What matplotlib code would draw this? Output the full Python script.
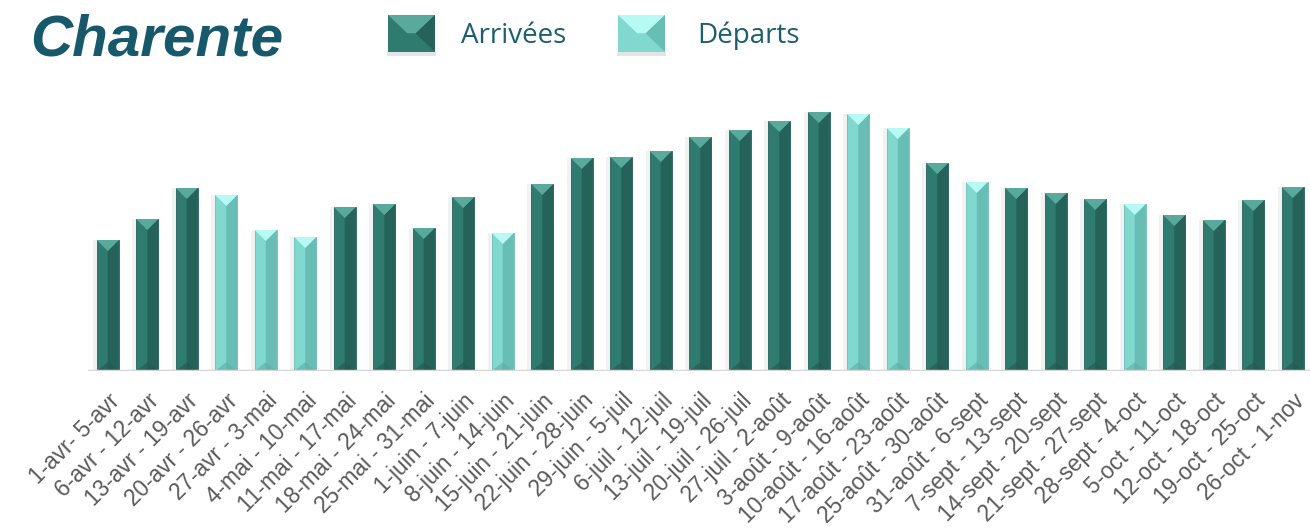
import numpy as np
import matplotlib.pyplot as plt
from matplotlib.patches import Polygon, Rectangle

# weekly periods (April -> early November)
periods = ["1-avr- 5-avr", "6-avr - 12-avr", "13-avr - 19-avr", "20-avr - 26-avr",
           "27-avr - 3-mai", "4-mai - 10-mai", "11-mai - 17-mai", "18-mai - 24-mai",
           "25-mai - 31-mai", "1-juin - 7-juin", "8-juin - 14-juin", "15-juin - 21-juin",
           "22-juin - 28-juin", "29-juin - 5-juil", "6-juil - 12-juil", "13-juil - 19-juil",
           "20-juil - 26-juil", "27-juil - 2-août", "3-août - 9-août", "10-août - 16-août",
           "17-août - 23-août", "25-août - 30-août", "31-août - 6-sept", "7-sept - 13-sept",
           "14-sept - 20-sept", "21-sept - 27-sept", "28-sept - 4-oct", "5-oct - 11-oct",
           "12-oct - 18-oct", "19-oct - 25-oct", "26-oct - 1-nov"]
values = [131, 152, 183, 176, 141, 134, 164, 167, 143, 174, 138, 187, 213, 214, 220, 234,
          241, 250, 259, 257, 243, 208, 189, 183, 178, 172, 167, 156, 151, 171, 184]
# 'A' = Arrivées dominant week, 'D' = Départs dominant week
kind = ["A", "A", "A", "D", "D", "D", "A", "A", "A", "A", "D", "A", "A", "A", "A", "A",
        "A", "A", "A", "D", "D", "A", "D", "A", "A", "A", "D", "A", "A", "A", "A"]

# face, right side, top facet, bottom facet
PAL = {"A": ("#2f7b70", "#25635a", "#5aa99d", "#22584f"),
       "D": ("#80d8cf", "#68bdb4", "#b6faf3", "#5fada4")}

FIG_W, FIG_H = 1310, 531
fig = plt.figure(figsize=(FIG_W / 100, FIG_H / 100), dpi=100)
ax = fig.add_axes([88 / FIG_W, 160 / FIG_H, 1222 / FIG_W, 271 / FIG_H])

x = np.arange(len(values))
step = 39.5  # px per category
ax.set_xlim(-0.5, -0.5 + 1222 / step)
ax.set_ylim(0, 271)

# pixel -> data conversion for the bevel facets
px_x = (ax.get_xlim()[1] - ax.get_xlim()[0]) / 1222
px_y = (ax.get_ylim()[1] - ax.get_ylim()[0]) / 271

width = 0.56
# soft shadow
ax.bar(x - 2 * px_x, values, width=width + 4 * px_x, color="#000000", alpha=0.05,
       zorder=1)
bars = ax.bar(x, values, width=width, color=[PAL[k][0] for k in kind],
              edgecolor=[PAL[k][1] for k in kind], linewidth=0.6, zorder=2)

for rect, k in zip(bars, kind):
    face, side, top, bot = PAL[k]
    x0, w, h = rect.get_x(), rect.get_width(), rect.get_height()
    xm = x0 + w / 2
    d = 11 * px_y
    # darker right half
    ax.add_patch(Polygon([(xm, 0), (x0 + w, 0), (x0 + w, h), (xm, h - d)],
                         closed=True, color=side, lw=0, zorder=3))
    # top facet
    ax.add_patch(Polygon([(x0, h), (x0 + w, h), (xm, h - d)], closed=True,
                         color=top, lw=0, zorder=4))
    # bottom facet
    ax.add_patch(Polygon([(x0, 0), (x0 + w, 0), (xm, d * 0.8)], closed=True,
                         color=bot, lw=0, alpha=0.6, zorder=4))

ax.axhline(0, color="#d6d6d6", lw=2.5, zorder=5)

ax.set_xticks(x, periods, rotation=45, ha="right", rotation_mode="anchor",
              fontsize=16.3, color="#5a5a5a", family="Liberation Sans")
ax.tick_params(axis="x", length=0, pad=13)
ax.set_yticks([])
for s in ax.spines.values():
    s.set_visible(False)

# title
fig.text(30 / FIG_W, 1 - 41 / FIG_H, "Charente", fontsize=42, fontweight="bold",
         style="italic", color="#17586a", va="center", family="Liberation Sans")


# legend with bevelled squares
def legend_box(x0, y0, w, h, k):
    face, side, top, bot = PAL[k]
    tr = fig.transFigure
    fx = lambda v: v / FIG_W
    fy = lambda v: 1 - v / FIG_H
    cx, cy = x0 + w / 2, y0 + h / 2
    fig.add_artist(Rectangle((fx(x0 - 1), fy(y0 + h + 4)), fx(w + 2), 4 / FIG_H,
                             transform=tr, color="#000000", alpha=0.10, lw=0))
    fig.add_artist(Rectangle((fx(x0), fy(y0 + h)), fx(w), h / FIG_H, transform=tr,
                             color=face, lw=0))
    fig.add_artist(Polygon([(fx(x0), fy(y0)), (fx(x0 + w), fy(y0)),
                            (fx(cx + 4), fy(cy)), (fx(cx - 4), fy(cy))],
                           closed=True, transform=tr, color=top, lw=0))
    fig.add_artist(Polygon([(fx(x0 + w), fy(y0)), (fx(x0 + w), fy(y0 + h)),
                            (fx(cx + 4), fy(cy))],
                           closed=True, transform=tr, color=side, lw=0))
    fig.add_artist(Polygon([(fx(x0), fy(y0 + h)), (fx(x0 + w), fy(y0 + h)),
                            (fx(cx + 4), fy(cy)), (fx(cx - 4), fy(cy))],
                           closed=True, transform=tr, color=face, lw=0))


legend_box(388, 15, 47, 37, "A")
legend_box(618, 15, 47, 37, "D")
fig.text(461 / FIG_W, 1 - 36 / FIG_H, "Arrivées", fontsize=20, color="#1d5e6d",
         va="center", family="Open Sans")
fig.text(697 / FIG_W, 1 - 36 / FIG_H, "Départs", fontsize=20, color="#1d5e6d",
         va="center", family="Open Sans")

fig.savefig("out.png", dpi=100)
